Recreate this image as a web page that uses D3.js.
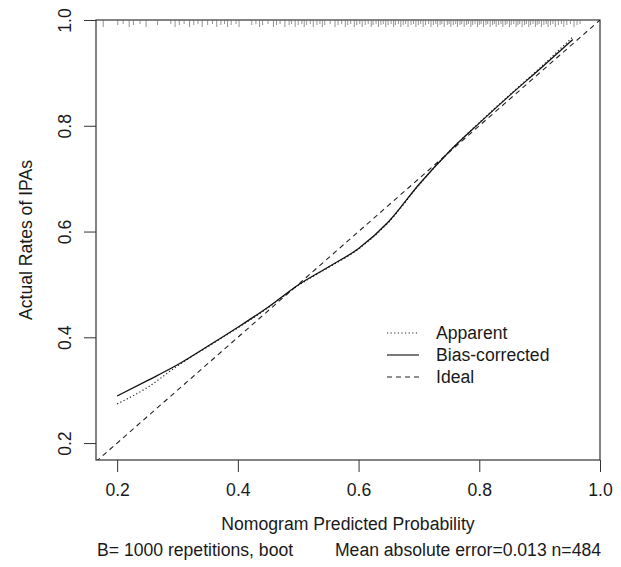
<!DOCTYPE html>
<html lang="en">
<head>
  <meta charset="UTF-8"/>
  <title>Calibration curve</title>
  <script src="https://d3js.org/d3.v7.min.js"></script>
  <style>
    body { margin: 0; background: #fff; }
    text { font-family: "Liberation Sans", Arial, sans-serif; fill: #1a1a1a; }
  </style>
</head>
<body>
<script>

// predicted probability grid for the two curves
var predicted = [0.20, 0.25, 0.30, 0.35, 0.40, 0.45, 0.50, 0.55, 0.60, 0.65, 0.70, 0.75, 0.80, 0.85, 0.90, 0.955];
var biasCorrected = [0.289, 0.318, 0.348, 0.383, 0.419, 0.457, 0.499, 0.533, 0.568, 0.619, 0.689, 0.751, 0.805, 0.857, 0.907, 0.963];
var apparent = [0.274, 0.305, 0.346, 0.382, 0.418, 0.456, 0.498, 0.532, 0.567, 0.618, 0.688, 0.751, 0.806, 0.858, 0.909, 0.968];

// rug of predicted probabilities (top of plot)
var rugValues = [0.177, 0.201, 0.210, 0.220, 0.227, 0.238, 0.248, 0.267, 0.289, 0.296, 0.303, 0.311,
  0.320, 0.327, 0.334, 0.341, 0.350, 0.358, 0.365, 0.372, 0.378, 0.383, 0.389, 0.397, 0.402,
  0.423, 0.430, 0.436, 0.441, 0.450, 0.459, 0.464, 0.470, 0.478, 0.485, 0.489, 0.495, 0.500,
  0.506, 0.510, 0.514, 0.520, 0.525, 0.531, 0.536, 0.540, 0.544, 0.553, 0.561, 0.566, 0.572,
  0.578, 0.582, 0.587, 0.593, 0.597, 0.602, 0.606, 0.611, 0.616, 0.621, 0.624, 0.629, 0.633,
  0.637, 0.641, 0.645, 0.649, 0.654, 0.658, 0.661, 0.666, 0.670, 0.674, 0.678, 0.682, 0.687,
  0.691, 0.695, 0.699, 0.703, 0.707, 0.711, 0.716, 0.720, 0.724, 0.728, 0.731, 0.735, 0.738,
  0.742, 0.747, 0.750, 0.753, 0.757, 0.761, 0.764, 0.768, 0.771, 0.775, 0.779, 0.782, 0.786,
  0.789, 0.793, 0.797, 0.800, 0.803, 0.807, 0.811, 0.814, 0.818, 0.822, 0.825, 0.828, 0.832,
  0.836, 0.839, 0.843, 0.846, 0.850, 0.853, 0.857, 0.861, 0.864, 0.867, 0.871, 0.875, 0.878,
  0.882, 0.885, 0.889, 0.893, 0.896, 0.899, 0.903, 0.907, 0.911, 0.914, 0.918, 0.922, 0.926,
  0.931, 0.936, 0.940, 0.945, 0.951, 0.957, 0.962, 0.967];

var xTicks = [0.2, 0.4, 0.6, 0.8, 1.0];
var yTicks = [0.2, 0.4, 0.6, 0.8, 1.0];
var legendLabels = ["Apparent", "Bias-corrected", "Ideal"];

var w = 621, h = 567;
var mLeft = 96, mRight = 600, mTop = 20, mBottom = 460;
var fs = 17.6;

var xScale = d3.scaleLinear().domain([0.165, 1.0]).range([mLeft, mRight]);
var yScale = d3.scaleLinear().domain([0.168, 1.0]).range([mBottom, mTop]);

var svg = d3.select("body").append("svg")
  .attr("width", w)
  .attr("height", h);

svg.append("clipPath").attr("id", "plotclip")
  .append("rect")
  .attr("x", mLeft).attr("y", mTop)
  .attr("width", mRight - mLeft).attr("height", mBottom - mTop);

// axes
var xAxis = d3.axisBottom(xScale).tickValues(xTicks).tickFormat(d3.format(".1f")).tickSize(12).tickPadding(12);
var yAxis = d3.axisLeft(yScale).tickValues(yTicks).tickFormat(d3.format(".1f")).tickSize(12);

var gx = svg.append("g").attr("transform", "translate(0," + mBottom + ")").call(xAxis);
gx.select(".domain").remove();
gx.selectAll("line").attr("stroke", "#333");
gx.selectAll("text").attr("font-size", fs).attr("fill", "#1a1a1a").attr("font-family", "Liberation Sans, Arial, sans-serif");

var gy = svg.append("g").attr("transform", "translate(" + mLeft + ",0)").call(yAxis);
gy.select(".domain").remove();
gy.selectAll("line").attr("stroke", "#333");
gy.selectAll("text")
  .attr("font-size", fs)
  .attr("font-family", "Liberation Sans, Arial, sans-serif")
  .attr("fill", "#1a1a1a")
  .attr("x", null)
  .attr("text-anchor", "middle")
  .attr("transform", "translate(-31,0) rotate(-90)")
  .attr("dy", "0.35em");

// box
svg.append("rect")
  .attr("x", mLeft).attr("y", mTop)
  .attr("width", mRight - mLeft).attr("height", mBottom - mTop)
  .attr("fill", "none")
  .attr("stroke", "#333")
  .attr("stroke-width", 1.2);

var plot = svg.append("g").attr("clip-path", "url(#plotclip)");

// rug
plot.selectAll(".rug")
  .data(rugValues)
  .enter()
  .append("line")
  .attr("class", "rug")
  .attr("x1", function(d) { return xScale(d); })
  .attr("x2", function(d) { return xScale(d); })
  .attr("y1", mTop)
  .attr("y2", function(d, i) { return mTop + (i % 3 == 0 ? 7 : (i % 3 == 1 ? 5 : 4)); })
  .attr("stroke", "#666")
  .attr("stroke-width", 0.7);

// ideal line
plot.append("line")
  .attr("x1", xScale(0.165)).attr("y1", yScale(0.165))
  .attr("x2", xScale(1.0)).attr("y2", yScale(1.0))
  .attr("stroke", "#222")
  .attr("stroke-width", 1.1)
  .attr("stroke-dasharray", "5,4");

var line = d3.line()
  .x(function(d) { return xScale(d[0]); })
  .y(function(d) { return yScale(d[1]); })
  .curve(d3.curveMonotoneX);

plot.append("path")
  .datum(d3.zip(predicted, apparent))
  .attr("d", line)
  .attr("fill", "none")
  .attr("stroke", "#222")
  .attr("stroke-width", 1.2)
  .attr("stroke-dasharray", "1.2,2.4");

plot.append("path")
  .datum(d3.zip(predicted, biasCorrected))
  .attr("d", line)
  .attr("fill", "none")
  .attr("stroke", "#111")
  .attr("stroke-width", 1.3);

// legend
var dashes = ["1.2,2.4", null, "5,4"];
var legend = svg.append("g");
legendLabels.forEach(function(lab, i) {
  var ly = 333 + i * 22;
  legend.append("line")
    .attr("x1", 387).attr("x2", 419)
    .attr("y1", ly).attr("y2", ly)
    .attr("stroke", "#222")
    .attr("stroke-width", 1.2)
    .attr("stroke-dasharray", dashes[i]);
  legend.append("text")
    .attr("x", 436).attr("y", ly)
    .attr("dy", "0.35em")
    .attr("font-size", fs)
    .text(lab);
});

// titles
svg.append("text")
  .attr("x", (mLeft + mRight) / 2).attr("y", 530)
  .attr("text-anchor", "middle")
  .attr("font-size", fs)
  .text("Nomogram Predicted Probability");

svg.append("text")
  .attr("x", 97).attr("y", 556)
  .attr("font-size", fs)
  .text("B= 1000 repetitions, boot");

svg.append("text")
  .attr("x", 601).attr("y", 556)
  .attr("text-anchor", "end")
  .attr("font-size", fs)
  .text("Mean absolute error=0.013 n=484");

svg.append("text")
  .attr("transform", "translate(26," + ((mTop + mBottom) / 2) + ") rotate(-90)")
  .attr("text-anchor", "middle")
  .attr("dy", "0.35em")
  .attr("font-size", fs)
  .text("Actual Rates of IPAs");

</script>
</body>
</html>
